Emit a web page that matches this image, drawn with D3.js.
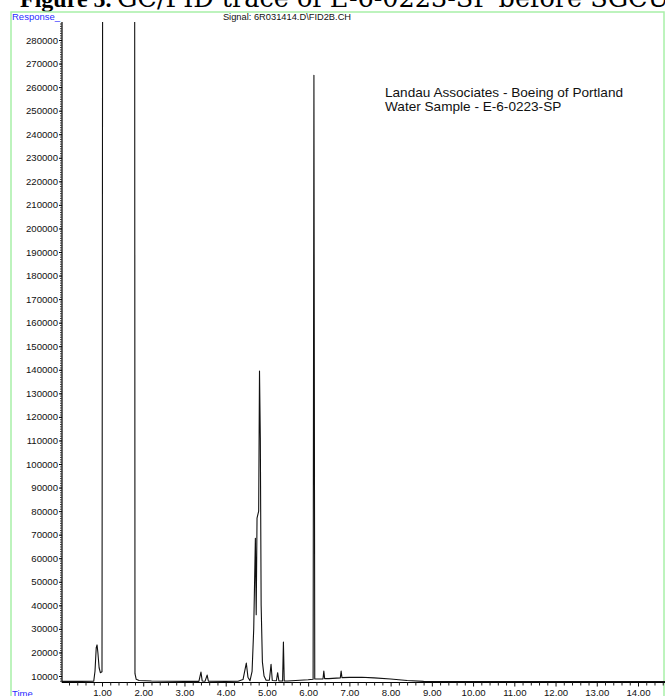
<!DOCTYPE html>
<html>
<head>
<meta charset="utf-8">
<script src="https://cdn.jsdelivr.net/npm/d3@7"></script>
<style>
  html, body { margin: 0; padding: 0; background: #fff; }
  svg { display: block; }
</style>
</head>
<body>
<svg id="chart" width="665" height="696"></svg>
<script>
// Retention time (min) and detector response of the FID trace
const retentionTime = [
  0.03, 0.50, 0.80, 0.83, 0.86, 0.88, 0.90, 0.93, 0.96, 1.00, 1.02,
  1.79, 1.80, 1.83, 1.90, 2.20, 2.60, 3.00, 3.35, 3.40, 3.43, 3.50, 3.55, 3.58,
  4.00, 4.30, 4.42, 4.50, 4.54, 4.59, 4.64, 4.68, 4.72, 4.74, 4.76, 4.80, 4.82,
  4.84, 4.86, 4.89, 4.93, 4.98, 5.06, 5.10, 5.13, 5.23, 5.26, 5.29, 5.38, 5.40,
  5.42, 5.50, 6.00, 6.12, 6.14, 6.16, 6.36, 6.38, 6.40, 6.50, 6.78, 6.80, 6.82,
  7.00, 7.30, 7.60, 8.00, 8.40, 8.80, 9.50, 14.70
];
const response = [
  7700, 7700, 7800, 12000, 22000, 23200, 20000, 13500, 11400, 11800, 400000,
  400000, 11000, 8600, 8100, 7900, 7800, 7700, 7700, 11700, 7900, 7800, 10400, 7800,
  7700, 7800, 8500, 15500, 9500, 8000, 12000, 30000, 68500, 36000, 77000, 80000, 139500,
  111000, 40000, 16000, 10000, 8200, 8200, 15000, 8100, 8000, 11400, 7900, 7900, 24400,
  7900, 7900, 8400, 8600, 265000, 8700, 8800, 12100, 8900, 8900, 9200, 12100, 9300,
  9400, 9500, 9200, 8700, 8100, 7700, 7600, 7600
];

// Axis tick values
const yTickValues = d3.range(10000, 280001, 10000);
const xTickValues = d3.range(1, 15, 1);

const svg = d3.select("#chart");
const font = "'Liberation Sans', Arial, sans-serif";

// Plot geometry
const plotLeft = 62, plotRight = 667, plotTop = 22, plotBottom = 682.5;

const x = d3.scaleLinear().domain([1, 14]).range([102, 638]);
x.domain([x.invert(plotLeft), x.invert(plotRight)]).range([plotLeft, plotRight]);

const y = d3.scaleLinear().domain([10000, 280000]).range([676, 40]);
y.domain([y.invert(plotBottom), y.invert(plotTop)]).range([plotBottom, plotTop]);

// Caption above the frame (partly cut off at the page top)
svg.append("text")
  .attr("x", 20).attr("y", 7)
  .attr("font-family", "'Liberation Serif', serif")
  .attr("font-weight", "bold")
  .attr("font-size", 24)
  .attr("fill", "#000")
  .text("Figure 5.");
svg.append("text")
  .attr("x", 117).attr("y", 7)
  .attr("font-family", "'DejaVu Serif', serif")
  .attr("font-size", 25.5)
  .attr("fill", "#000")
  .text("GC/FID trace of E-6-0223-SP before SGCU");

// Light green frame
svg.append("rect")
  .attr("x", 11).attr("y", 12)
  .attr("width", 653).attr("height", 700)
  .attr("fill", "none")
  .attr("stroke", "#a8f0a8")
  .attr("stroke-width", 1.5);

// Header texts
svg.append("text")
  .attr("x", 12).attr("y", 20)
  .attr("font-family", font).attr("font-size", 9.5)
  .attr("fill", "#2a2aff")
  .text("Response_");

svg.append("text")
  .attr("x", 287).attr("y", 20)
  .attr("text-anchor", "middle")
  .attr("font-family", font).attr("font-size", 9.3)
  .attr("fill", "#111")
  .text("Signal: 6R031414.D\\FID2B.CH");

svg.append("text")
  .attr("x", 12).attr("y", 697)
  .attr("font-family", font).attr("font-size", 9.5)
  .attr("fill", "#2a2aff")
  .text("Time");

// Y axis: minor ticks every 1000, labelled every 10000
const yAxisG = svg.append("g").attr("transform", `translate(${plotLeft},0)`);
yAxisG.call(d3.axisLeft(y)
  .tickValues(d3.range(8000, 287001, 1000))
  .tickSize(2).tickFormat(""));
yAxisG.selectAll("line").attr("stroke", "#333");
const yMajor = svg.append("g").attr("transform", `translate(${plotLeft},0)`)
  .call(d3.axisLeft(y).tickValues(yTickValues).tickSize(3).tickPadding(1)
    .tickFormat(d3.format("d")));
yMajor.select(".domain").remove();
yMajor.selectAll("text")
  .attr("font-family", font).attr("font-size", 9.6).attr("fill", "#111");
yAxisG.select(".domain").attr("stroke", "#000").attr("stroke-width", 1.2)
  .attr("d", `M0,${plotTop}V${plotBottom}`);

// X axis: minor ticks every 0.2 min, labelled every minute
const xAxisG = svg.append("g").attr("transform", `translate(0,${plotBottom})`);
xAxisG.call(d3.axisBottom(x)
  .tickValues(d3.range(0.2, 14.7, 0.2).filter(v => Math.abs(v - Math.round(v)) > 0.01))
  .tickSize(3).tickFormat(""));
xAxisG.select(".domain").attr("stroke", "#000").attr("stroke-width", 1.2)
  .attr("d", `M${plotLeft},0H${plotRight}`);
xAxisG.selectAll("line").attr("stroke", "#222");
const xMajor = svg.append("g").attr("transform", `translate(0,${plotBottom})`)
  .call(d3.axisBottom(x).tickValues(xTickValues).tickSize(4).tickPadding(3)
    .tickFormat(d3.format(".2f")));
xMajor.select(".domain").remove();
xMajor.selectAll("line").attr("stroke", "#111");
xMajor.selectAll("text")
  .attr("font-family", font).attr("font-size", 9.6).attr("fill", "#111");

// Chromatogram trace, clipped to the plot area
svg.append("clipPath").attr("id", "plot-clip")
  .append("rect").attr("x", plotLeft).attr("y", plotTop)
  .attr("width", plotRight - plotLeft).attr("height", plotBottom - plotTop);

const line = d3.line()
  .x((d, i) => x(retentionTime[i]))
  .y(d => y(d));

svg.append("path")
  .datum(response)
  .attr("clip-path", "url(#plot-clip)")
  .attr("fill", "none")
  .attr("stroke", "#111")
  .attr("stroke-width", 1.1)
  .attr("stroke-linejoin", "round")
  .attr("d", line);

// Sample annotation
svg.append("text")
  .attr("x", 385).attr("y", 97)
  .attr("font-family", font).attr("font-size", 13.6).attr("fill", "#111")
  .text("Landau Associates - Boeing of Portland");
svg.append("text")
  .attr("x", 385).attr("y", 110.5)
  .attr("font-family", font).attr("font-size", 13.6).attr("fill", "#111")
  .text("Water Sample - E-6-0223-SP");
</script>
</body>
</html>
